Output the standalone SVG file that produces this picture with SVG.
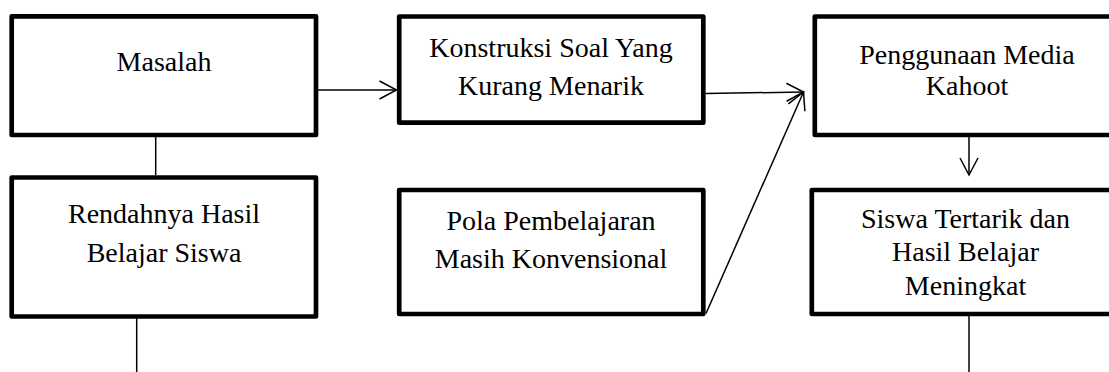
<svg xmlns="http://www.w3.org/2000/svg" width="1109" height="372" viewBox="0 0 1109 372">
<defs>
<style>
.box{fill:#fff;stroke:#000;stroke-width:4.7;stroke-linejoin:round}
.lbl{font-family:"Liberation Serif","Times New Roman",serif;font-size:28px;fill:#000;text-anchor:middle}
.con{fill:none;stroke:#000;stroke-width:1.5}
</style>
<marker id="arr" markerUnits="userSpaceOnUse" viewBox="-20 -12 22 24" refX="0" refY="0" markerWidth="22" markerHeight="24" orient="auto">
<path d="M-17,-9 L0,0 L-17,9" fill="none" stroke="#000" stroke-width="1.5"/>
</marker>
</defs>
<rect width="1109" height="372" fill="#fff"/>
<g id="connectors">
<line class="con" x1="155.7" y1="137" x2="155.7" y2="175"/>
<line class="con" x1="136.7" y1="318" x2="136.7" y2="372"/>
<line class="con" x1="318" y1="90" x2="396.5" y2="90" marker-end="url(#arr)"/>
<line class="con" x1="705.5" y1="93.5" x2="803.5" y2="92" marker-end="url(#arr)"/>
<line class="con" x1="706" y1="313.5" x2="803.5" y2="92" marker-end="url(#arr)"/>
<line class="con" x1="969" y1="137" x2="969" y2="175" marker-end="url(#arr)"/>
<line class="con" x1="969" y1="316" x2="969" y2="372"/>
</g>
<g id="masalah">
<rect class="box" x="11.7" y="16.3" width="304.3" height="118.7"/>
<text class="lbl" x="164" y="71">Masalah</text>
</g>
<g id="rendahnya">
<rect class="box" x="11.7" y="177.5" width="304.3" height="139"/>
<text class="lbl" x="164" y="222.7">Rendahnya Hasil</text>
<text class="lbl" x="164" y="261.7">Belajar Siswa</text>
</g>
<g id="konstruksi">
<rect class="box" x="399.2" y="16.5" width="304.1" height="106.2"/>
<text class="lbl" x="551" y="56.7">Konstruksi Soal Yang</text>
<text class="lbl" x="551" y="95">Kurang Menarik</text>
</g>
<g id="pola">
<rect class="box" x="399.2" y="190" width="304.1" height="124"/>
<text class="lbl" x="551" y="230">Pola Pembelajaran</text>
<text class="lbl" x="551" y="267.7">Masih Konvensional</text>
</g>
<g id="penggunaan">
<rect class="box" x="814.8" y="16.5" width="310" height="118.5"/>
<text class="lbl" x="967" y="64">Penggunaan Media</text>
<text class="lbl" x="967" y="95">Kahoot</text>
</g>
<g id="siswa">
<rect class="box" x="811.8" y="190" width="313" height="124"/>
<text class="lbl" x="965.5" y="227.5">Siswa Tertarik dan</text>
<text class="lbl" x="965.5" y="261">Hasil Belajar</text>
<text class="lbl" x="965.5" y="294.5">Meningkat</text>
</g>
</svg>
